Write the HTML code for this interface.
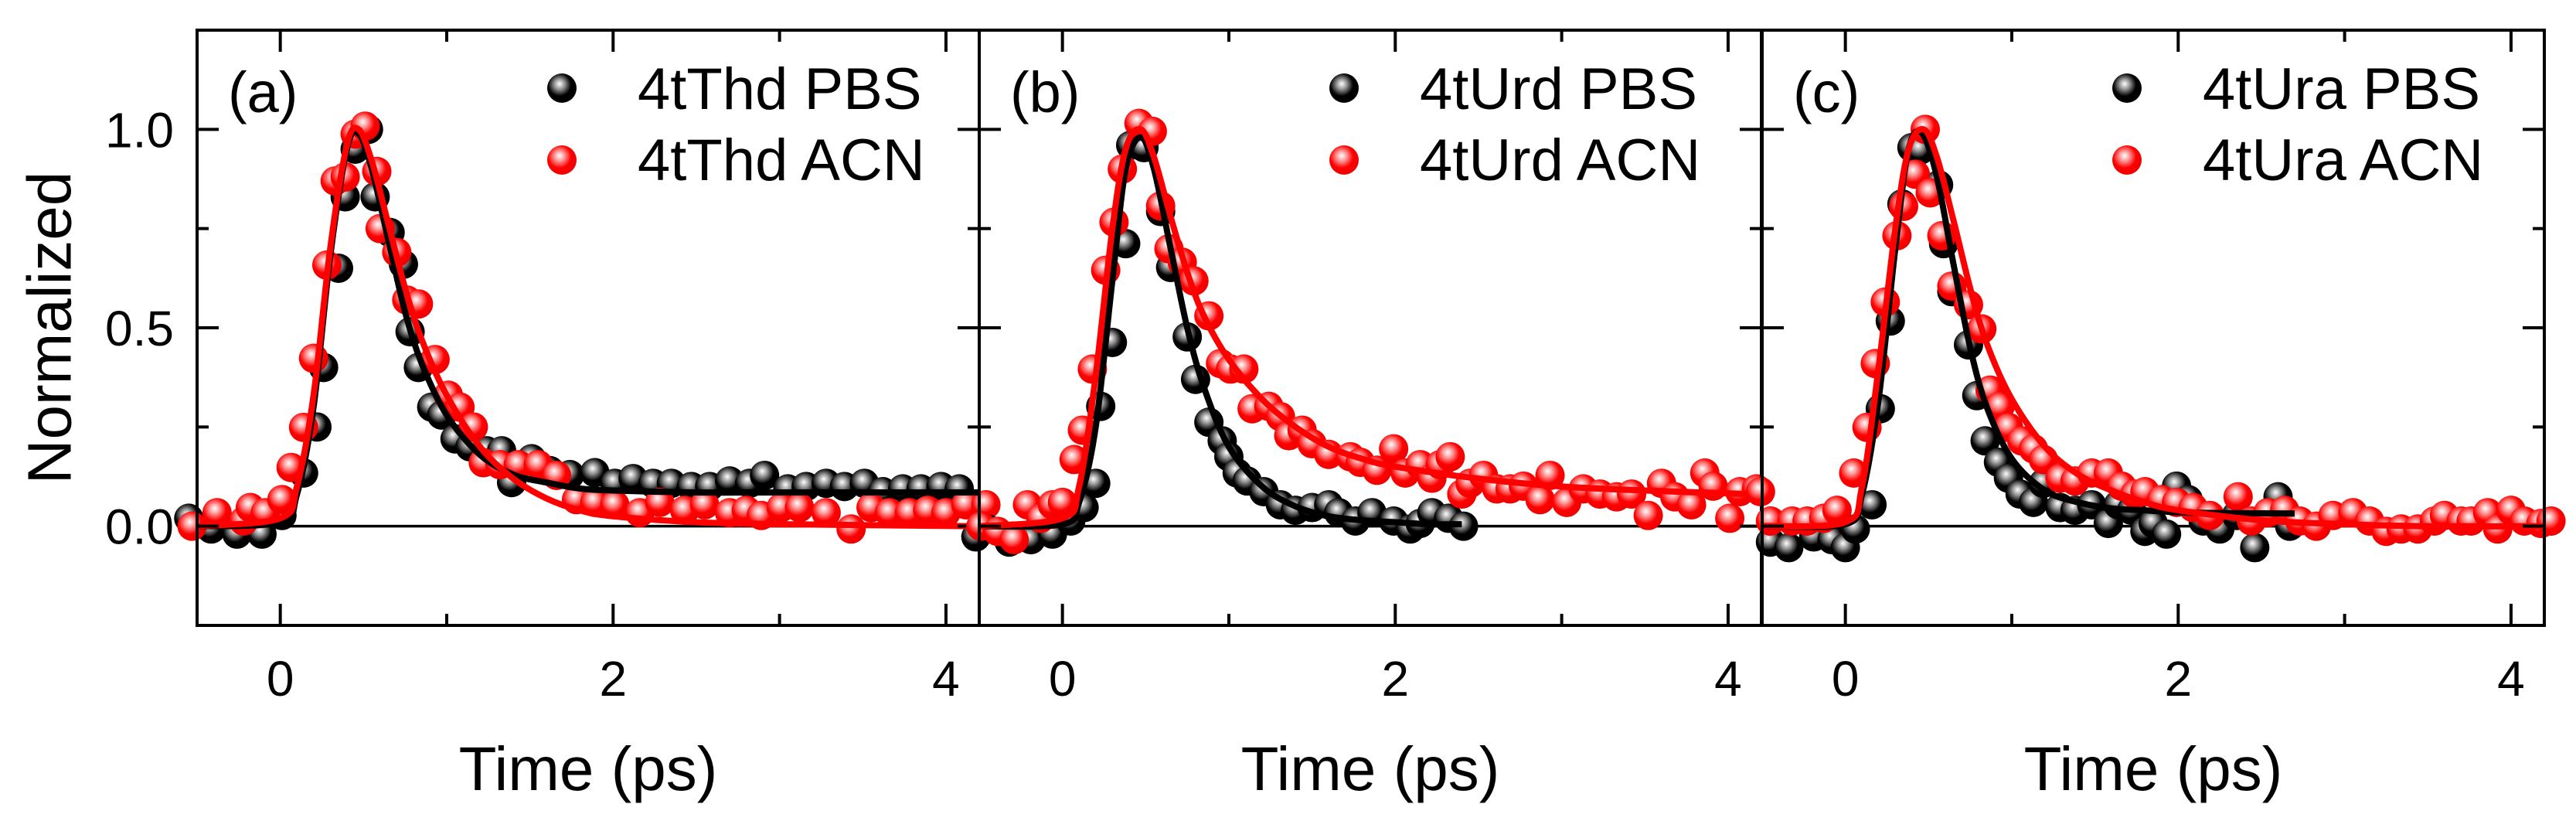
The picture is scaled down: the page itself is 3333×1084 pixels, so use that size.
<!DOCTYPE html>
<html><head><meta charset="utf-8"><style>
html,body{margin:0;padding:0;background:#fff;}
svg{display:block;font-family:"Liberation Sans",Arial,sans-serif;}
</style></head><body>
<svg id="chart" width="3333" height="1084" viewBox="0 0 3333 1084" xmlns="http://www.w3.org/2000/svg">
<defs>
<radialGradient id="gBlack" cx="0.42" cy="0.4" r="0.6" fx="0.42" fy="0.35">
<stop offset="0" stop-color="#ffffff"/><stop offset="0.28" stop-color="#9a9a9a"/><stop offset="0.65" stop-color="#000"/><stop offset="1" stop-color="#000"/>
</radialGradient>
<radialGradient id="gRed" cx="0.42" cy="0.4" r="0.6" fx="0.42" fy="0.35">
<stop offset="0" stop-color="#ffffff"/><stop offset="0.28" stop-color="#ff9a9a"/><stop offset="0.65" stop-color="#ff0000"/><stop offset="1" stop-color="#f00000"/>
</radialGradient>
</defs>
</svg>
<script>
// ---- data ----
const xTicks = [0, 2, 4];
const xTickLabels = ["0", "2", "4"];
const yTicks = [0, 0.5, 1.0];
const yTickLabels = ["0.0", "0.5", "1.0"];
const panelLabels = ["(a)", "(b)", "(c)"];
const pbsNames = ["4tThd PBS", "4tUrd PBS", "4tUra PBS"];
const acnNames = ["4tThd ACN", "4tUrd ACN", "4tUra ACN"];

const aBlackX = [-0.55,-0.415,-0.26,-0.11,0.01,0.14,0.22,0.26,0.35,0.39,0.45,0.53,0.57,0.66,0.74,0.78,0.83,0.91,0.97,1.05,1.14,1.24,1.33,1.39,1.51,1.62,1.74,1.89,2.01,2.12,2.24,2.35,2.47,2.58,2.70,2.82,2.91,3.05,3.16,3.28,3.39,3.51,3.62,3.74,3.85,3.97,4.08,4.18];
const aBlackY = [0.02,-0.007,-0.02,-0.02,0.027,0.134,0.25,0.40,0.65,0.83,0.95,1.0,0.83,0.74,0.66,0.49,0.40,0.30,0.28,0.22,0.20,0.19,0.19,0.11,0.17,0.14,0.13,0.135,0.108,0.12,0.108,0.108,0.10,0.10,0.114,0.108,0.128,0.094,0.10,0.108,0.10,0.108,0.087,0.094,0.094,0.10,0.094,-0.027];
const aRedX = [-0.53,-0.38,-0.22,-0.18,-0.09,0.01,0.065,0.14,0.2,0.28,0.33,0.39,0.45,0.51,0.58,0.6,0.7,0.76,0.83,0.93,1.01,1.08,1.16,1.22,1.32,1.43,1.55,1.66,1.78,1.89,2.01,2.16,2.28,2.43,2.55,2.7,2.8,2.89,3.01,3.12,3.28,3.43,3.55,3.66,3.78,3.89,4.0,4.12,4.24];
const aRedY = [0,0.034,0.013,0.047,0.034,0.067,0.148,0.249,0.423,0.658,0.87,0.88,0.988,1.008,0.894,0.75,0.69,0.57,0.56,0.42,0.33,0.30,0.25,0.16,0.155,0.155,0.155,0.128,0.067,0.06,0.054,0.034,0.06,0.04,0.054,0.034,0.04,0.027,0.047,0.047,0.034,-0.007,0.047,0.034,0.034,0.04,0.034,0.054,0.054];
const aBlackFitX = [-0.5,0,0.1,0.2,0.3,0.4,0.47,0.55,0.65,0.75,0.85,1.0,1.2,1.4,1.6,1.8,2.0,2.5,3,4.2];
const aBlackFitY = [0,0.01,0.08,0.3,0.68,0.95,0.99,0.9,0.72,0.54,0.41,0.28,0.18,0.13,0.11,0.095,0.09,0.085,0.085,0.085];
const aRedFitX = [-0.5,0,0.1,0.2,0.3,0.4,0.47,0.55,0.65,0.75,0.85,1.0,1.2,1.4,1.6,1.8,2.0,2.5,3,4.2];
const aRedFitY = [0,0.02,0.1,0.33,0.7,0.96,1.0,0.92,0.76,0.6,0.47,0.33,0.2,0.12,0.07,0.04,0.025,0.01,0.005,0];

const bBlackX = [-0.45,-0.32,-0.19,-0.06,0.05,0.13,0.2,0.23,0.30,0.38,0.41,0.49,0.59,0.65,0.75,0.8,0.88,0.96,1.0,1.05,1.11,1.21,1.31,1.40,1.50,1.6,1.66,1.76,1.86,1.99,2.09,2.15,2.22,2.32,2.41];
const bBlackY = [-0.007,-0.04,-0.034,-0.02,0.013,0.047,0.108,0.302,0.463,0.712,0.96,0.954,0.793,0.652,0.477,0.37,0.262,0.215,0.175,0.134,0.114,0.087,0.054,0.04,0.047,0.054,0.034,0.013,0.034,0.013,-0.007,0.007,0.034,0.02,0];
const bRedX = [-0.49,-0.39,-0.29,-0.21,-0.13,-0.06,0.0,0.07,0.12,0.18,0.26,0.31,0.36,0.46,0.54,0.59,0.64,0.72,0.79,0.88,0.95,1.01,1.09,1.14,1.24,1.31,1.36,1.44,1.50,1.60,1.73,1.79,1.89,1.99,2.06,2.15,2.22,2.27,2.33,2.40,2.45,2.53,2.61,2.69,2.77,2.87,2.93,3.03,3.13,3.23,3.33,3.42,3.52,3.60,3.68,3.78,3.86,3.91,4.01,4.07,4.17];
const bRedY = [0,-0.013,-0.034,0.054,0.02,0.054,0.06,0.168,0.242,0.396,0.645,0.766,0.9,1.015,0.995,0.807,0.699,0.665,0.618,0.53,0.41,0.396,0.396,0.296,0.302,0.276,0.228,0.242,0.208,0.181,0.175,0.161,0.141,0.195,0.134,0.155,0.121,0.155,0.175,0.081,0.108,0.128,0.094,0.094,0.101,0.067,0.128,0.06,0.094,0.081,0.074,0.081,0.027,0.108,0.074,0.054,0.134,0.101,0.02,0.087,0.094];
const bBlackFitX = [-0.5,0,0.1,0.2,0.3,0.38,0.47,0.55,0.65,0.75,0.85,1.0,1.2,1.4,1.6,1.8,2.0,2.2,2.4];
const bBlackFitY = [0,0.005,0.06,0.25,0.62,0.9,0.98,0.9,0.7,0.5,0.35,0.2,0.1,0.05,0.025,0.015,0.01,0.005,0.005];
const bRedFitX = [-0.5,0,0.1,0.2,0.3,0.38,0.47,0.55,0.65,0.75,0.85,1.0,1.2,1.4,1.6,1.8,2.0,2.5,3,3.5,4.2];
const bRedFitY = [0,0.02,0.1,0.38,0.75,0.95,1.0,0.93,0.78,0.64,0.53,0.42,0.32,0.25,0.2,0.17,0.15,0.12,0.1,0.09,0.08];

const cBlackX = [-0.45,-0.34,-0.19,-0.08,0,0.06,0.16,0.21,0.27,0.34,0.40,0.45,0.56,0.59,0.64,0.74,0.79,0.84,0.92,0.98,1.05,1.13,1.19,1.29,1.38,1.48,1.58,1.64,1.72,1.80,1.85,1.93,1.99,2.06,2.15,2.25,2.35,2.46,2.54,2.60,2.67];
const cBlackY = [-0.04,-0.054,-0.027,-0.034,-0.054,-0.007,0.054,0.296,0.517,0.812,0.954,0.948,0.86,0.712,0.591,0.457,0.329,0.215,0.161,0.121,0.081,0.06,0.108,0.047,0.04,0.054,0.007,0.054,0.04,-0.013,0.007,-0.02,0.101,0.067,0.013,-0.007,0.027,-0.054,0.034,0.074,0];
const cRedX = [-0.51,-0.45,-0.32,-0.23,-0.13,-0.05,0.05,0.13,0.18,0.24,0.31,0.35,0.42,0.48,0.51,0.58,0.64,0.74,0.82,0.87,0.93,0.98,1.06,1.13,1.19,1.29,1.38,1.48,1.58,1.66,1.74,1.80,1.90,1.99,2.09,2.19,2.36,2.44,2.54,2.64,2.73,2.83,2.93,3.05,3.15,3.25,3.34,3.44,3.54,3.60,3.70,3.76,3.86,3.92,4.0,4.08,4.18,4.24];
const cRedY = [0.087,0.013,0.013,0.013,0.02,0.04,0.134,0.249,0.41,0.565,0.732,0.806,0.887,1.0,0.84,0.732,0.605,0.558,0.497,0.343,0.302,0.249,0.215,0.195,0.168,0.121,0.114,0.134,0.134,0.101,0.081,0.087,0.067,0.06,0.047,0.027,0.074,0.013,0.034,0.04,0.013,0.0,0.027,0.034,0.013,-0.013,-0.007,-0.007,0.013,0.027,0.013,0.013,0.034,-0.007,0.04,0.013,0.007,0.013];
const cBlackFitX = [-0.5,0,0.1,0.2,0.3,0.38,0.46,0.55,0.65,0.75,0.85,1.0,1.2,1.4,1.6,1.8,2.0,2.3,2.7];
const cBlackFitY = [0,0.005,0.08,0.32,0.7,0.95,0.99,0.88,0.66,0.45,0.3,0.17,0.09,0.06,0.045,0.04,0.035,0.033,0.032];
const cRedFitX = [-0.5,0,0.1,0.2,0.3,0.38,0.47,0.55,0.65,0.75,0.85,1.0,1.2,1.4,1.6,1.8,2.0,2.5,3,3.5,4.2];
const cRedFitY = [0,0.01,0.1,0.4,0.75,0.95,1.0,0.93,0.77,0.6,0.46,0.32,0.2,0.13,0.09,0.06,0.04,0.015,0.005,0,0];

// ---- layout ----
const NS = "http://www.w3.org/2000/svg";
const svg = document.getElementById("chart");
const panelLeft = [255, 1267, 2280];
const PW = 1012, TOP = 39, BOTTOM = 809;
const XMIN = -0.5, XMAX = 4.2, YMIN = -0.25, YMAX = 1.25;
function mk(tag, attrs, parent) {
  const e = document.createElementNS(NS, tag);
  for (const k in attrs) e.setAttribute(k, attrs[k]);
  (parent || svg).appendChild(e);
  return e;
}
function xs(p, v) { return panelLeft[p] + (v - XMIN) / (XMAX - XMIN) * PW; }
function ys(v) { return BOTTOM - (v - YMIN) / (YMAX - YMIN) * (BOTTOM - TOP); }
function smoothPath(pts) {
  let d = "M" + pts[0][0].toFixed(1) + "," + pts[0][1].toFixed(1);
  for (let i = 0; i < pts.length - 1; i++) {
    const p0 = pts[Math.max(0, i - 1)], p1 = pts[i], p2 = pts[i + 1], p3 = pts[Math.min(pts.length - 1, i + 2)];
    const c1x = p1[0] + (p2[0] - p0[0]) / 6, c1y = p1[1] + (p2[1] - p0[1]) / 6;
    const c2x = p2[0] - (p3[0] - p1[0]) / 6, c2y = p2[1] - (p3[1] - p1[1]) / 6;
    d += " C" + c1x.toFixed(1) + "," + c1y.toFixed(1) + " " + c2x.toFixed(1) + "," + c2y.toFixed(1) + " " + p2[0].toFixed(1) + "," + p2[1].toFixed(1);
  }
  return d;
}
const panels = [
  {bx: aBlackX, by: aBlackY, rx: aRedX, ry: aRedY, bfx: aBlackFitX, bfy: aBlackFitY, rfx: aRedFitX, rfy: aRedFitY},
  {bx: bBlackX, by: bBlackY, rx: bRedX, ry: bRedY, bfx: bBlackFitX, bfy: bBlackFitY, rfx: bRedFitX, rfy: bRedFitY},
  {bx: cBlackX, by: cBlackY, rx: cRedX, ry: cRedY, bfx: cBlackFitX, bfy: cBlackFitY, rfx: cRedFitX, rfy: cRedFitY}
];
const R = 19;

// y axis title
const yt = mk("text", {x: 64, y: 424, "font-size": 80, "text-anchor": "middle", transform: "rotate(-90 64 424)", "dominant-baseline": "central"});


yt.textContent = "Normalized";

panels.forEach((P, p) => {
  const g = mk("g", {});
  
  
  const L = panelLeft[p];
  const zl = mk("line", {x1: L, x2: L + PW, y1: ys(0), y2: ys(0), stroke: "#000", "stroke-width": 3.5}, g);
  
  
  const pts = mk("g", {}, g);
  
  
  P.bx.forEach((v, i) => {
    const c = mk("circle", {cx: xs(p, v), cy: ys(P.by[i]), r: R, fill: "url(#gBlack)"}, pts);
    
    
  });
  const rpts = mk("g", {}, g);
  
  
  P.rx.forEach((v, i) => {
    const c = mk("circle", {cx: xs(p, v), cy: ys(P.ry[i]), r: R, fill: "url(#gRed)"}, rpts);
    
    
  });
  const bl = mk("path", {d: smoothPath(P.bfx.map((v, i) => [xs(p, v), ys(P.bfy[i])])), fill: "none", stroke: "#000", "stroke-width": 8}, g);
  
  
  const rl = mk("path", {d: smoothPath(P.rfx.map((v, i) => [xs(p, v), ys(P.rfy[i])])), fill: "none", stroke: "#ff0000", "stroke-width": 8}, g);
  
  
  const fr = mk("rect", {x: L, y: TOP, width: PW, height: BOTTOM - TOP, fill: "none", stroke: "#000", "stroke-width": 4}, g);
  
  
  for (let t = 0; t <= 4; t++) {
    const major = t % 2 === 0, len = major ? 28 : 15, X = xs(p, t);
    const tb = mk("line", {x1: X, x2: X, y1: BOTTOM, y2: BOTTOM - len, stroke: "#000", "stroke-width": 4}, g);
    
    
    const tt = mk("line", {x1: X, x2: X, y1: TOP, y2: TOP + len, stroke: "#000", "stroke-width": 4}, g);
    
    
  }
  xTicks.forEach((t, i) => {
    const tl = mk("text", {x: xs(p, t), y: 900, "font-size": 64, "text-anchor": "middle"}, g);
    
    
    tl.textContent = xTickLabels[i];
  });
  for (let k = 0; k <= 4; k++) {
    const v = k * 0.25, major = k % 2 === 0, len = major ? 28 : 15, Y = ys(v);
    const tl = mk("line", {x1: L, x2: L + len, y1: Y, y2: Y, stroke: "#000", "stroke-width": 4}, g);
    
    
    const tr = mk("line", {x1: L + PW, x2: L + PW - len, y1: Y, y2: Y, stroke: "#000", "stroke-width": 4}, g);
    
    
  }
  if (p === 0) {
    yTicks.forEach((t, i) => {
      const tl = mk("text", {x: 225, y: ys(t) + 23, "font-size": 64, "text-anchor": "end"}, g);
      
      
      tl.textContent = yTickLabels[i];
    });
  }
  const xt = mk("text", {x: L + PW / 2, y: 1022, "font-size": 80, "text-anchor": "middle"}, g);
  
  
  xt.textContent = "Time (ps)";
  const pl = mk("text", {x: L + 40, y: 145, "font-size": 74}, g);
  
  
  pl.textContent = panelLabels[p];
  const lg = mk("g", {}, g);
  
  
  const lx = L + PW - 540;
  const m1 = mk("circle", {cx: lx, cy: 114, r: 19, fill: "url(#gBlack)"}, lg);
  
  
  const t1 = mk("text", {x: lx + 98, y: 141, "font-size": 76}, lg);
  
  
  t1.textContent = pbsNames[p];
  const m2 = mk("circle", {cx: lx, cy: 207, r: 19, fill: "url(#gRed)"}, lg);
  
  
  const t2 = mk("text", {x: lx + 98, y: 233, "font-size": 76}, lg);
  
  
  t2.textContent = acnNames[p];
});
</script>
</body></html>
